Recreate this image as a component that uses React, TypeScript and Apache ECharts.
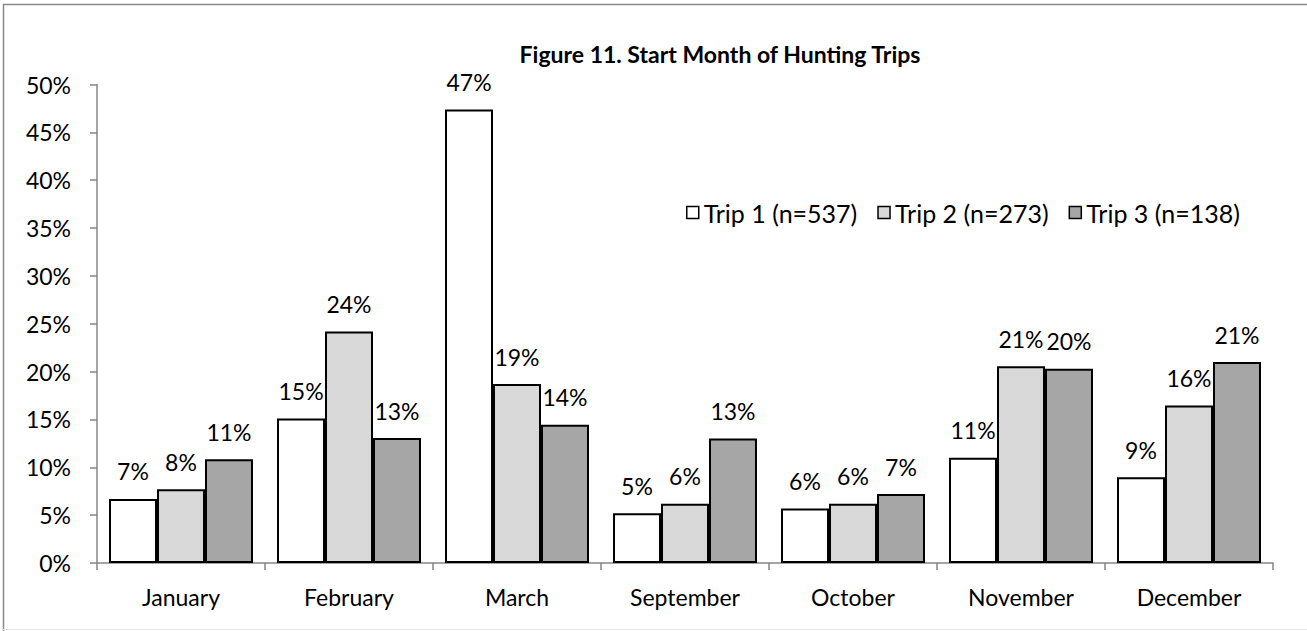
import React, { useEffect, useRef } from "react";
import * as echarts from "echarts";

const categories = ["January", "February", "March", "September", "October", "November", "December"];
const trip1 = [6.7, 15.1, 47.4, 5.2, 5.7, 11.0, 8.95];
const trip2 = [7.7, 24.2, 18.7, 6.2, 6.2, 20.55, 16.45];
const trip3 = [10.85, 13.05, 14.45, 13.0, 7.2, 20.3, 21.0];
const seriesNames = ["Trip 1 (n=537)", "Trip 2 (n=273)", "Trip 3 (n=138)"];
const seriesColors = ["#ffffff", "#d9d9d9", "#a6a6a6"];
const titleText = "Figure 11. Start Month of Hunting Trips";

const FONT = "Lato, 'Noto Sans', sans-serif";

export default function App() {
  const ref = useRef<HTMLDivElement>(null);
  useEffect(() => {
    if (!ref.current) return;
    const chart = echarts.init(ref.current, undefined, { renderer: "svg" });
    const data = [trip1, trip2, trip3];
    chart.setOption({
      animation: false,
      backgroundColor: "#ffffff",
      textStyle: { fontFamily: FONT },
      title: {
        text: titleText,
        left: 715,
        top: 37,
        textAlign: "center",
        textStyle: { fontFamily: FONT, fontWeight: "bold", fontSize: 23, color: "#000" },
      },
      legend: {
        left: 681,
        top: 195,
        itemWidth: 12,
        itemHeight: 12,
        itemGap: 20,
        icon: "rect",
        textStyle: { fontFamily: FONT, fontSize: 25, color: "#000" },
        itemStyle: { borderColor: "#000", borderWidth: 1.5 },
        data: seriesNames,
      },
      grid: { left: 97, right: 34, top: 84.5, bottom: 68, containLabel: false },
      xAxis: {
        type: "category",
        data: categories,
        axisLine: { lineStyle: { color: "#868686", width: 1.5 } },
        axisTick: { show: true, length: 7, lineStyle: { color: "#868686", width: 1.5 } },
        axisLabel: { fontFamily: FONT, fontSize: 23, color: "#000", margin: 22 },
      },
      yAxis: {
        type: "value",
        min: 0,
        max: 50,
        interval: 5,
        axisLine: { show: true, lineStyle: { color: "#868686", width: 1.5 } },
        axisTick: { show: true, length: 7, lineStyle: { color: "#868686", width: 1.5 } },
        splitLine: { show: false },
        axisLabel: {
          fontFamily: FONT,
          fontSize: 23,
          color: "#000",
          margin: 26,
          formatter: (v: number) => `${v}%`,
        },
      },
      series: seriesNames.map((name, i) => ({
        name,
        type: "bar",
        data: data[i],
        barGap: "0%",
        barCategoryGap: "14.3%",
        itemStyle: { color: seriesColors[i], borderColor: "#000", borderWidth: 2 },
        label: {
          show: true,
          position: "top",
          distance: 16,
          fontFamily: FONT,
          fontSize: 23,
          color: "#000",
          formatter: (p: any) => `${Math.round(p.value)}%`,
        },
      })),
      graphic: [
        { type: "line", shape: { x1: 3, y1: 4.5, x2: 1307, y2: 4.5 }, style: { stroke: "#8a8a8a", lineWidth: 1.5 } },
        { type: "line", shape: { x1: 3.5, y1: 4, x2: 3.5, y2: 631 }, style: { stroke: "#8a8a8a", lineWidth: 1.5 } },
        { type: "line", shape: { x1: 3, y1: 629.5, x2: 1307, y2: 629.5 }, style: { stroke: "#e6e6e6", lineWidth: 1 } },
      ],
    });
    return () => chart.dispose();
  }, []);
  return (
    <div
      ref={ref}
      style={{ position: "fixed", left: 0, top: 0, width: 1307, height: 631 }}
    />
  );
}
